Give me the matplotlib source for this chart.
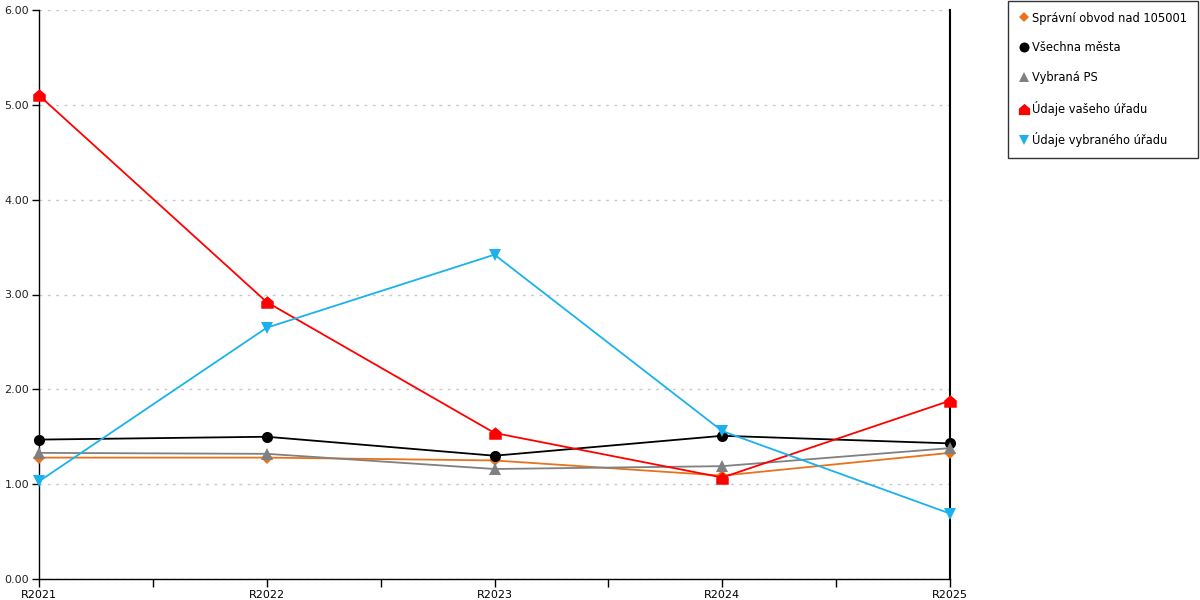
import numpy as np
import matplotlib
matplotlib.use("Agg")
import matplotlib.pyplot as plt
from matplotlib.path import Path
from matplotlib.ticker import FixedLocator

years = ["R2021", "R2022", "R2023", "R2024", "R2025"]
spravni_obvod = [1.28, 1.28, 1.25, 1.09, 1.33]
vsechna_mesta = [1.47, 1.50, 1.30, 1.51, 1.43]
vybrana_ps = [1.33, 1.32, 1.16, 1.19, 1.38]
vaseho_uradu = [5.10, 2.92, 1.54, 1.07, 1.88]
vybraneho_uradu = [1.03, 2.65, 3.42, 1.56, 0.69]

plt.rcParams["font.family"] = ["DejaVu Sans"]

house = Path([(-1, -1), (1, -1), (1, 0.15), (0, 1), (-1, 0.15), (-1, -1)],
             [Path.MOVETO, Path.LINETO, Path.LINETO, Path.LINETO, Path.LINETO, Path.CLOSEPOLY])

fig = plt.figure(figsize=(12, 6), dpi=100)
ax = fig.add_axes([39/1200, 21/600, 911/1200, 569/600])

x = np.arange(len(years))
series = [
    ("Správní obvod nad 105001", spravni_obvod, "#e8731a", "D", 6),
    ("Všechna města", vsechna_mesta, "#000000", "o", 8),
    ("Vybraná PS", vybrana_ps, "#808080", "^", 8),
    ("Údaje vašeho úřadu", vaseho_uradu, "#ff0000", house, 9),
    ("Údaje vybraného úřadu", vybraneho_uradu, "#1ab2ec", "v", 8),
]
for label, vals, color, marker, ms in series:
    ax.plot(x, vals, color=color, lw=1.3, marker=marker, ms=ms,
            markeredgewidth=0, label=label, clip_on=False, zorder=3)

ax.set_xlim(0, 4)
ax.set_ylim(0, 6)
ax.set_yticks(np.arange(0, 7, 1))
ax.set_yticklabels([f"{v:.2f}" for v in np.arange(0, 7, 1)])
ax.set_xticks(x)
ax.set_xticklabels(years)
ax.xaxis.set_minor_locator(FixedLocator([0.5, 1.5, 2.5, 3.5]))
ax.tick_params(axis="both", which="both", labelsize=8, color="black", width=1)
ax.tick_params(axis="x", which="both", length=6, pad=2)
ax.tick_params(axis="y", length=5, pad=2, labelcolor="#222222")
ax.grid(axis="y", color="#c8c8c8", ls=(0, (2, 4)), lw=1)
ax.set_axisbelow(True)
ax.spines["top"].set_visible(False)
for s in ["left", "bottom"]:
    ax.spines[s].set_linewidth(1)
ax.spines["right"].set_linewidth(1.5)

leg = fig.legend(loc="upper right", bbox_to_anchor=(1199/1200, 1.0), fontsize=8.3,
                 frameon=True, fancybox=False, edgecolor="black", handlelength=0.8,
                 handletextpad=0.35, labelspacing=1.45, borderpad=0.95, borderaxespad=0.05,
                 markerscale=0.9)
leg.get_frame().set_linewidth(1)
for h in leg.legend_handles:
    h.set_linestyle("none")

fig.savefig("out.png", dpi=100)
